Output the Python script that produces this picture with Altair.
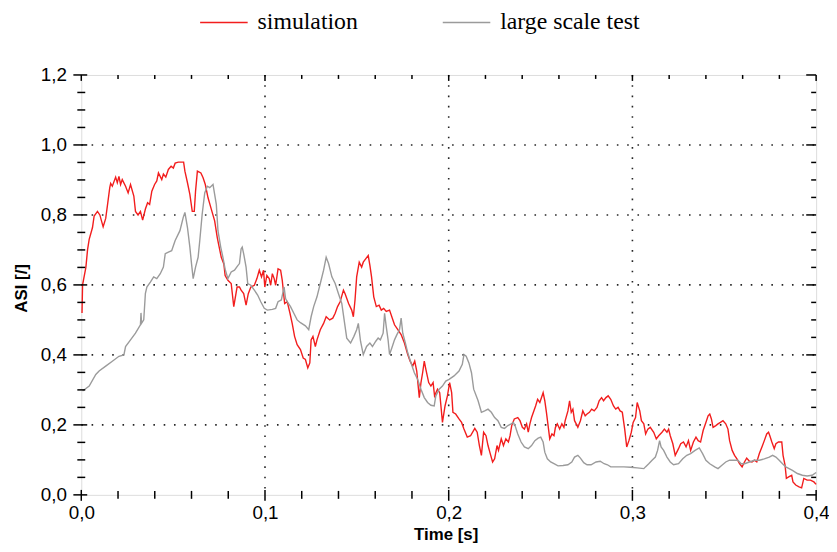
import altair as alt
import pandas as pd

# ---- data (time [s], ASI [/]) ----
simulation = [
    (0.0004, 0.52), (0.0007, 0.60), (0.0025, 0.65), (0.0034, 0.70), (0.0043, 0.73), (0.0061, 0.764),
    (0.0070, 0.797), (0.0088, 0.81), (0.0101, 0.80), (0.0119, 0.766), (0.0133, 0.79), (0.0142, 0.826),
    (0.0155, 0.878), (0.0160, 0.89), (0.0169, 0.882), (0.0187, 0.908), (0.0196, 0.892), (0.0205, 0.91),
    (0.0214, 0.887), (0.0223, 0.901), (0.0241, 0.882), (0.0255, 0.863), (0.0268, 0.887), (0.0286, 0.854),
    (0.0295, 0.81), (0.0309, 0.80), (0.0322, 0.81), (0.0334, 0.785), (0.0349, 0.817), (0.0361, 0.835),
    (0.0372, 0.83), (0.0384, 0.868), (0.0399, 0.887), (0.0411, 0.897), (0.0420, 0.92), (0.0438, 0.901),
    (0.0447, 0.917), (0.0460, 0.908), (0.0474, 0.93), (0.0489, 0.939), (0.0501, 0.934), (0.0511, 0.948),
    (0.0528, 0.951), (0.0557, 0.951), (0.0564, 0.925), (0.0578, 0.892), (0.0591, 0.859), (0.0604, 0.81),
    (0.0615, 0.81), (0.0622, 0.868), (0.0632, 0.925), (0.0651, 0.92), (0.0663, 0.906), (0.0675, 0.887),
    (0.0690, 0.849), (0.0708, 0.816), (0.0726, 0.783), (0.0740, 0.736), (0.0747, 0.717), (0.0762, 0.679),
    (0.0776, 0.66), (0.0783, 0.627), (0.0798, 0.613), (0.0816, 0.604), (0.0830, 0.538), (0.0848, 0.594),
    (0.0861, 0.594), (0.0870, 0.585), (0.0884, 0.575), (0.0897, 0.542), (0.0909, 0.575), (0.0923, 0.594),
    (0.0942, 0.599), (0.0956, 0.618), (0.0969, 0.642), (0.0981, 0.623), (0.0992, 0.642), (0.0999, 0.594),
    (0.1010, 0.627), (0.1023, 0.618), (0.1031, 0.599), (0.1040, 0.632), (0.1050, 0.618), (0.1058, 0.599),
    (0.1071, 0.646), (0.1085, 0.642), (0.1094, 0.613), (0.1107, 0.547), (0.1121, 0.552), (0.1136, 0.519),
    (0.1148, 0.49), (0.1161, 0.453), (0.1175, 0.429), (0.1193, 0.415), (0.1208, 0.391), (0.1220, 0.387),
    (0.1233, 0.363), (0.1244, 0.377), (0.1251, 0.443), (0.1261, 0.453), (0.1274, 0.424), (0.1283, 0.443),
    (0.1301, 0.472), (0.1319, 0.49), (0.1333, 0.509), (0.1352, 0.50), (0.1369, 0.505), (0.1382, 0.519),
    (0.1395, 0.538), (0.1409, 0.552), (0.1427, 0.585), (0.1436, 0.575), (0.1455, 0.547), (0.1472, 0.528),
    (0.1481, 0.509), (0.1490, 0.557), (0.1499, 0.623), (0.1513, 0.665), (0.1526, 0.651), (0.1535, 0.665),
    (0.1549, 0.675), (0.1562, 0.684), (0.1571, 0.656), (0.1580, 0.623), (0.1592, 0.566), (0.1606, 0.538),
    (0.1621, 0.542), (0.1633, 0.528), (0.1646, 0.533), (0.1660, 0.524), (0.1678, 0.528), (0.1693, 0.505),
    (0.1705, 0.486), (0.1723, 0.472), (0.1741, 0.458), (0.1759, 0.434), (0.1777, 0.401), (0.1790, 0.382),
    (0.1804, 0.368), (0.1815, 0.382), (0.1826, 0.354), (0.1840, 0.278), (0.1849, 0.321), (0.1858, 0.349),
    (0.1867, 0.382), (0.1876, 0.358), (0.1891, 0.321), (0.1903, 0.311), (0.1915, 0.321), (0.1923, 0.283),
    (0.1939, 0.302), (0.1951, 0.292), (0.1966, 0.207), (0.1980, 0.254), (0.1993, 0.283), (0.2005, 0.321),
    (0.2016, 0.292), (0.2023, 0.236), (0.2038, 0.231), (0.2056, 0.217), (0.2070, 0.207), (0.2083, 0.188),
    (0.2101, 0.165), (0.2119, 0.169), (0.2142, 0.19), (0.2155, 0.179), (0.2167, 0.141), (0.2178, 0.113),
    (0.2190, 0.179), (0.2203, 0.169), (0.2214, 0.141), (0.2226, 0.118), (0.2239, 0.094), (0.2250, 0.103),
    (0.2263, 0.141), (0.2271, 0.127), (0.2286, 0.16), (0.2298, 0.141), (0.2311, 0.16), (0.2325, 0.151),
    (0.2334, 0.169), (0.2343, 0.198), (0.2357, 0.217), (0.2376, 0.221), (0.2388, 0.212), (0.2401, 0.193),
    (0.2412, 0.188), (0.2424, 0.203), (0.2433, 0.179), (0.2442, 0.203), (0.2451, 0.221), (0.2473, 0.254),
    (0.2484, 0.273), (0.2496, 0.264), (0.2514, 0.292), (0.2523, 0.269), (0.2532, 0.236), (0.2541, 0.198),
    (0.2550, 0.16), (0.2562, 0.174), (0.2573, 0.169), (0.2581, 0.193), (0.2591, 0.203), (0.2604, 0.188),
    (0.2616, 0.203), (0.2627, 0.193), (0.2634, 0.212), (0.2649, 0.24), (0.2658, 0.269), (0.2667, 0.236),
    (0.2676, 0.245), (0.2685, 0.212), (0.2694, 0.203), (0.2703, 0.193), (0.2717, 0.212), (0.2730, 0.24),
    (0.2743, 0.226), (0.2753, 0.231), (0.2766, 0.236), (0.2778, 0.245), (0.2792, 0.24), (0.2807, 0.25),
    (0.2819, 0.269), (0.2832, 0.278), (0.2843, 0.269), (0.2856, 0.278), (0.2868, 0.283), (0.2882, 0.273),
    (0.2897, 0.254), (0.2909, 0.245), (0.2922, 0.25), (0.2933, 0.24), (0.2945, 0.236), (0.2958, 0.188),
    (0.2969, 0.137), (0.2981, 0.155), (0.2994, 0.179), (0.3004, 0.207), (0.3017, 0.221), (0.3026, 0.264),
    (0.3040, 0.24), (0.3049, 0.212), (0.3062, 0.203), (0.3072, 0.174), (0.3084, 0.188), (0.3097, 0.193),
    (0.3116, 0.179), (0.3130, 0.16), (0.3143, 0.169), (0.3161, 0.179), (0.3174, 0.188), (0.3188, 0.179),
    (0.3197, 0.188), (0.3206, 0.169), (0.3220, 0.146), (0.3233, 0.113), (0.3251, 0.132), (0.3263, 0.146),
    (0.3278, 0.151), (0.3292, 0.137), (0.3305, 0.155), (0.3317, 0.127), (0.3332, 0.151), (0.3346, 0.165),
    (0.3358, 0.155), (0.3371, 0.151), (0.3385, 0.184), (0.3400, 0.207), (0.3412, 0.226), (0.3421, 0.231),
    (0.3430, 0.217), (0.3439, 0.193), (0.3454, 0.198), (0.3466, 0.203), (0.3479, 0.207), (0.3493, 0.212),
    (0.3508, 0.203), (0.3520, 0.188), (0.3529, 0.155), (0.3543, 0.127), (0.3556, 0.113), (0.3569, 0.103),
    (0.3583, 0.089), (0.3597, 0.08), (0.3610, 0.094), (0.3622, 0.105), (0.3637, 0.096), (0.3651, 0.094),
    (0.3664, 0.099), (0.3677, 0.094), (0.3691, 0.118), (0.3705, 0.137), (0.3718, 0.155), (0.3731, 0.174),
    (0.3741, 0.179), (0.3748, 0.169), (0.3759, 0.151), (0.3772, 0.132), (0.3781, 0.146), (0.3795, 0.151),
    (0.3813, 0.151), (0.3820, 0.113), (0.3831, 0.084), (0.3838, 0.047), (0.3853, 0.052), (0.3867, 0.056),
    (0.3874, 0.037), (0.3889, 0.028), (0.3907, 0.023), (0.3921, 0.02), (0.3933, 0.047), (0.3951, 0.042),
    (0.3969, 0.042), (0.3988, 0.037), (0.4000, 0.03),
]

large_scale_test = [
    (0.0007, 0.297), (0.0043, 0.311), (0.0079, 0.344), (0.0097, 0.354), (0.0133, 0.368), (0.0169, 0.382),
    (0.0205, 0.396), (0.0232, 0.40), (0.0241, 0.424), (0.0268, 0.443), (0.0295, 0.462), (0.0322, 0.486),
    (0.0325, 0.52), (0.0328, 0.49), (0.0340, 0.50), (0.0349, 0.576), (0.0357, 0.594), (0.0376, 0.608),
    (0.0394, 0.623), (0.0411, 0.618), (0.0430, 0.632), (0.0447, 0.651), (0.0457, 0.689), (0.0474, 0.694),
    (0.0492, 0.698), (0.0511, 0.727), (0.0537, 0.755), (0.0555, 0.793), (0.0564, 0.807), (0.0578, 0.764),
    (0.0591, 0.708), (0.0600, 0.661), (0.0609, 0.618), (0.0622, 0.651), (0.0636, 0.679), (0.0645, 0.727),
    (0.0658, 0.802), (0.0672, 0.863), (0.0686, 0.882), (0.0699, 0.878), (0.0717, 0.887), (0.0726, 0.859),
    (0.0735, 0.83), (0.0744, 0.755), (0.0759, 0.708), (0.0771, 0.679), (0.0783, 0.645), (0.0798, 0.618),
    (0.0816, 0.637), (0.0834, 0.642), (0.0852, 0.655), (0.0861, 0.661), (0.0870, 0.703), (0.0876, 0.708),
    (0.0884, 0.689), (0.0897, 0.651), (0.0906, 0.604), (0.0923, 0.599), (0.0942, 0.585), (0.0960, 0.571),
    (0.0977, 0.552), (0.0996, 0.533), (0.1013, 0.528), (0.1040, 0.53), (0.1058, 0.533), (0.1071, 0.552),
    (0.1089, 0.557), (0.1104, 0.594), (0.1112, 0.561), (0.1121, 0.552), (0.1139, 0.538), (0.1157, 0.519),
    (0.1175, 0.50), (0.1193, 0.492), (0.1220, 0.483), (0.1238, 0.472), (0.1251, 0.509), (0.1265, 0.538),
    (0.1283, 0.566), (0.1301, 0.604), (0.1319, 0.642), (0.1333, 0.679), (0.1346, 0.661), (0.1364, 0.623),
    (0.1382, 0.604), (0.1400, 0.575), (0.1418, 0.547), (0.1436, 0.481), (0.1445, 0.448), (0.1466, 0.434),
    (0.1484, 0.453), (0.1499, 0.472), (0.1508, 0.49), (0.1520, 0.439), (0.1535, 0.401), (0.1553, 0.424),
    (0.1571, 0.434), (0.1585, 0.424), (0.1603, 0.439), (0.1616, 0.448), (0.1628, 0.443), (0.1643, 0.462),
    (0.1651, 0.519), (0.1660, 0.481), (0.1670, 0.443), (0.1678, 0.401), (0.1693, 0.424), (0.1705, 0.443),
    (0.1718, 0.458), (0.1732, 0.472), (0.1741, 0.505), (0.1750, 0.462), (0.1764, 0.434), (0.1777, 0.406),
    (0.1795, 0.377), (0.1813, 0.349), (0.1831, 0.33), (0.1849, 0.302), (0.1867, 0.278), (0.1885, 0.264),
    (0.1903, 0.256), (0.1921, 0.254), (0.1930, 0.283), (0.1948, 0.302), (0.1966, 0.311), (0.1984, 0.325),
    (0.2002, 0.33), (0.2029, 0.34), (0.2056, 0.354), (0.2074, 0.373), (0.2083, 0.401), (0.2095, 0.396),
    (0.2110, 0.377), (0.2124, 0.349), (0.2136, 0.302), (0.2160, 0.269), (0.2178, 0.236), (0.2196, 0.24),
    (0.2214, 0.245), (0.2232, 0.236), (0.2250, 0.221), (0.2268, 0.212), (0.2286, 0.193), (0.2304, 0.19),
    (0.2322, 0.198), (0.2340, 0.203), (0.2352, 0.207), (0.2361, 0.198), (0.2376, 0.174), (0.2394, 0.151),
    (0.2412, 0.137), (0.2433, 0.132), (0.2451, 0.141), (0.2469, 0.155), (0.2487, 0.162), (0.2501, 0.165),
    (0.2514, 0.151), (0.2523, 0.122), (0.2537, 0.103), (0.2555, 0.094), (0.2573, 0.089), (0.2595, 0.083),
    (0.2622, 0.084), (0.2649, 0.086), (0.2670, 0.094), (0.2685, 0.108), (0.2703, 0.113), (0.2717, 0.105),
    (0.2735, 0.092), (0.2753, 0.086), (0.2775, 0.086), (0.2802, 0.094), (0.2825, 0.096), (0.2846, 0.089),
    (0.2864, 0.086), (0.2882, 0.08), (0.2918, 0.08), (0.2954, 0.08), (0.2990, 0.079), (0.3026, 0.077),
    (0.3062, 0.075), (0.3071, 0.08), (0.3089, 0.089), (0.3107, 0.099), (0.3125, 0.108), (0.3137, 0.127),
    (0.3148, 0.155), (0.3156, 0.137), (0.3170, 0.127), (0.3188, 0.108), (0.3206, 0.094), (0.3224, 0.086),
    (0.3251, 0.089), (0.3274, 0.103), (0.3296, 0.113), (0.3317, 0.118), (0.3341, 0.127), (0.3364, 0.134),
    (0.3382, 0.118), (0.3400, 0.099), (0.3421, 0.089), (0.3448, 0.08), (0.3466, 0.075), (0.3484, 0.083),
    (0.3508, 0.094), (0.3529, 0.099), (0.3556, 0.099), (0.3574, 0.099), (0.3592, 0.089), (0.3610, 0.089),
    (0.3637, 0.094), (0.3664, 0.099), (0.3691, 0.099), (0.3718, 0.103), (0.3745, 0.108), (0.3763, 0.113),
    (0.3781, 0.108), (0.3799, 0.099), (0.3817, 0.089), (0.3835, 0.08), (0.3853, 0.075), (0.3871, 0.07),
    (0.3898, 0.061), (0.3925, 0.056), (0.3951, 0.054), (0.3978, 0.056), (0.4000, 0.064),
]

series_names = ["simulation", "large scale test"]
series_colors = ["#f21d1d", "#9b9b9b"]

x_major = [0.0, 0.1, 0.2, 0.3, 0.4]
x_grid = [0.1, 0.2, 0.3]
x_minor = [0.02, 0.04, 0.06, 0.08, 0.12, 0.14, 0.16, 0.18, 0.22, 0.24, 0.26, 0.28,
           0.32, 0.34, 0.36, 0.38]
y_major = [0.0, 0.2, 0.4, 0.6, 0.8, 1.0, 1.2]
y_grid = [0.2, 0.4, 0.6, 0.8, 1.0]
y_minor = [0.05, 0.1, 0.15, 0.25, 0.3, 0.35, 0.45, 0.5, 0.55, 0.65, 0.7, 0.75,
           0.85, 0.9, 0.95, 1.05, 1.1, 1.15]

W, H = 742, 424

df_sim = pd.DataFrame(simulation, columns=["t", "asi"])
df_sim["series"] = series_names[0]
df_test = pd.DataFrame(large_scale_test, columns=["t", "asi"])
df_test["series"] = series_names[1]

xs = alt.Scale(domain=[0, 0.4], nice=False, zero=False)
ys = alt.Scale(domain=[0, 1.2], nice=False, zero=False)

lbl = "replace(format(datum.value, '.1f'), '.', ',')"
FONT = "Liberation Sans"

x_axis = alt.Axis(values=x_major, labelExpr=lbl, ticks=False, domain=False, grid=False,
                  labelFont=FONT, labelFontSize=19, labelColor="black", labelPadding=9,
                  labelFlush=False, labelOverlap=False,
                  title="Time [s]", titleFont=FONT, titleFontSize=17, titleFontWeight="bold",
                  titleColor="black", titleX=W / 2 - 3, titleY=45, titleBaseline="alphabetic",
                  titleAlign="center")
y_axis = alt.Axis(values=y_major, labelExpr=lbl, ticks=False, domain=False, grid=False,
                  labelFont=FONT, labelFontSize=19, labelColor="black", labelPadding=15,
                  labelOverlap=False, labelFlush=False,
                  title="ASI [/]", titleFont=FONT, titleFontSize=17, titleFontWeight="bold",
                  titleColor="black", titleX=-60, titleY=H / 2 + 3, titleAngle=270,
                  titleBaseline="middle", titleAlign="center")

legend = alt.Legend(orient="none", legendX=119, legendY=-78, direction="horizontal", title=None,
                    symbolType="stroke", symbolSize=2304, symbolStrokeWidth=1.5,
                    labelFont="Liberation Serif", labelFontSize=24, labelColor="black",
                    labelOffset=9, columnPadding=82, padding=0)

color = alt.Color("series:N", scale=alt.Scale(domain=series_names, range=series_colors),
                  legend=legend)

def line_layer(df):
    return alt.Chart(df).mark_line(strokeWidth=1.4, interpolate="linear").encode(
        x=alt.X("t:Q", scale=xs, axis=x_axis),
        y=alt.Y("asi:Q", scale=ys, axis=y_axis),
        color=color,
        order="t:Q",
    )

grid_x = alt.Chart(pd.DataFrame({"t": x_grid})).mark_rule(
    color="black", strokeWidth=1.6, strokeDash=[1.6, 8.8], opacity=0.85
).encode(x=alt.X("t:Q", scale=xs, axis=x_axis), y=alt.value(0), y2=alt.value(H))

grid_y = alt.Chart(pd.DataFrame({"asi": y_grid})).mark_rule(
    color="black", strokeWidth=1.6, strokeDash=[1.6, 8.8], opacity=0.85
).encode(y=alt.Y("asi:Q", scale=ys, axis=y_axis), x=alt.value(0), x2=alt.value(W))

def y_ticks(vals, x1, x2):
    return alt.Chart(pd.DataFrame({"asi": vals})).mark_rule(color="black", strokeWidth=1.5).encode(
        y=alt.Y("asi:Q", scale=ys, axis=y_axis), x=alt.value(x1), x2=alt.value(x2))

def x_ticks(vals, y1, y2):
    return alt.Chart(pd.DataFrame({"t": vals})).mark_rule(color="black", strokeWidth=1.5).encode(
        x=alt.X("t:Q", scale=xs, axis=x_axis), y=alt.value(y1), y2=alt.value(y2))

ticks = [
    y_ticks(y_minor, -4, 4), y_ticks(y_major, -8, 6),
    y_ticks(y_minor, W - 5, W), y_ticks(y_major, W - 10, W),
    x_ticks(x_minor, H - 4, H + 4), x_ticks(x_major, H - 5, H + 6),
    x_ticks(x_minor, 0, 4), x_ticks(x_major, 0, 6),
]

chart = alt.layer(
    grid_x, grid_y, line_layer(df_sim), line_layer(df_test), *ticks
).properties(
    width=W, height=H,
    autosize=alt.AutoSizeParams(type="none"),
    padding={"left": 74, "top": 65, "right": 13, "bottom": 47},
).configure_view(stroke="black", strokeWidth=2).configure(background="white")

chart.save("out.html", embed_options={"renderer": "svg", "actions": False})
